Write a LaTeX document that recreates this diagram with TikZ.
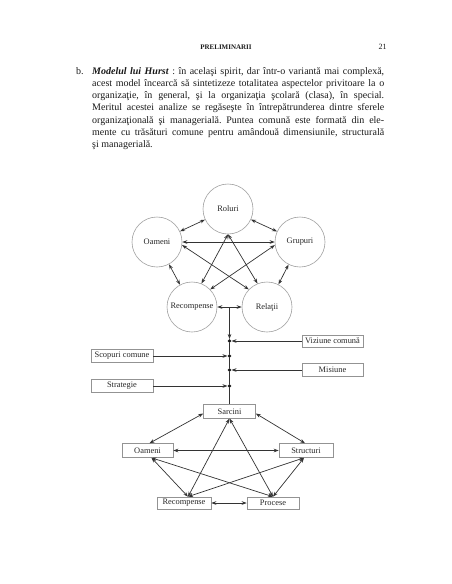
\documentclass[tikz,border=0pt]{standalone}
\usepackage{fontspec}
\setmainfont{Liberation Serif}
\usetikzlibrary{arrows.meta}
\frenchspacing
\begin{document}
\begin{tikzpicture}[x=1pt,y=-1pt,
  circ/.style={circle,draw=gray!75,line width=0.6pt,minimum size=50pt,inner sep=0pt,text=black!85,font=\fontsize{8.4}{9}\selectfont},
  box/.style={rectangle,draw=gray!85,line width=0.6pt,inner sep=0pt,minimum height=13pt,text=black!85,font=\fontsize{8.4}{9}\selectfont},
  link/.style={draw=black!80,line width=0.7pt},
  bi/.style={link,{Stealth[length=5pt,width=3.6pt]}-{Stealth[length=5pt,width=3.6pt]}},
  uni/.style={link,-{Stealth[length=5pt,width=3.6pt]}},
  junc/.style={circle,fill=black!90,inner sep=0pt,minimum size=3.6pt}
]
\useasboundingbox (0,0) rectangle (452,584);

% ---- text ----
\node[anchor=base,inner sep=0pt,text=black!90,font=\fontsize{7}{8}\selectfont\bfseries] (hdr) at (226,49) {PRELIMINARII};
\node[anchor=base,inner sep=0pt,text=black!90,font=\fontsize{8}{9}\selectfont] (pg) at (382.5,49) {21};
\node[anchor=base west,inner sep=0pt,text=black!90,font=\fontsize{10}{12.3}\selectfont] (bl) at (76,74) {b.};
\node[anchor=base west,inner sep=0pt,text=black!90] (par) at (92,74) {\parbox[t]{292pt}{\fontsize{10}{12.3}\selectfont
\textbf{\textit{Modelul lui Hurst}} : în acelaşi spirit, dar într-o variantă mai complexă,\linebreak
acest model încearcă să sintetizeze totalitatea aspectelor privitoare la o\linebreak
organizaţie, în general, şi la organizaţia şcolară (clasa), în special.\linebreak
Meritul acestei analize se regăseşte în întrepătrunderea dintre sferele\linebreak
organizaţională şi managerială. Puntea comună este formată din ele-\linebreak
mente cu trăsături comune pentru amândouă dimensiunile, structurală\linebreak
şi managerială.}};

% ---- upper pentagon ----
\node[circ] (rol) at (228,209) {Roluri};
\node[circ] (oamc) at (157,242) {Oameni};
\node[circ] (grp) at (300,242) {Grupuri};
\node[circ] (recc) at (192,307) {Recompense};
\node[circ] (rel) at (267,307) {Relaţii};

\draw[bi] (rol) -- (oamc);
\draw[bi] (rol) -- (grp);
\draw[bi] (oamc) -- (grp);
\draw[bi] (oamc) -- (recc);
\draw[bi] (grp) -- (rel);
\draw[bi] (recc) -- (rel);
\draw[bi] (rol.south) -- (recc.68);
\draw[bi] (rol.south) -- (rel.112);
\draw[bi] (oamc.-7) -- (rel.136);
\draw[bi] (grp.187) -- (recc.44);

% ---- bridge ----
\coordinate (top) at (229.5,307);
\node[junc] (d1) at (229.5,341) {};
\node[junc] (d2) at (229.5,356) {};
\node[junc] (d3) at (229.5,370) {};
\node[junc] (d4) at (229.5,386) {};

\node[box,minimum width=61pt,minimum height=12pt] (viz) at (332.5,341) {Viziune comună};
\node[box,minimum width=62pt] (scop) at (122,356) {Scopuri comune};
\node[box,minimum width=61pt] (mis) at (332.5,370) {Misiune};
\node[box,minimum width=62pt] (strat) at (122,386) {Strategie};

\node[box,minimum width=52pt,minimum height=13.5pt] (sarc) at (229.5,411.5) {Sarcini};

\draw[uni] (top) -- (d1);
\draw[link] (d1) -- (d2) -- (d3) -- (d4) -- (sarc);
\draw[uni] (viz) -- (d1);
\draw[uni] (scop) -- (d2);
\draw[uni] (mis) -- (d3);
\draw[uni] (strat) -- (d4);

% ---- lower pentagon ----
\node[box,minimum width=51pt,minimum height=14pt] (oamb) at (147.5,450.5) {Oameni};
\node[box,minimum width=54pt,minimum height=14pt] (str) at (306,450.5) {Structuri};
\node[box,minimum width=54pt,minimum height=12pt] (recb) at (184,503) {Recompense};
\node[box,minimum width=52pt,minimum height=12pt] (proc) at (273,503) {Procese};

\draw[bi] ([yshift=-2pt]sarc.west) -- ([xshift=2pt]oamb.north);
\draw[bi] ([yshift=-2pt]sarc.east) -- ([xshift=-1pt]str.north);
\draw[bi] (oamb.east) -- (str.west);
\draw[bi] ([xshift=4pt]oamb.south) -- ([xshift=4pt]recb.north);
\draw[bi] ([xshift=4pt]oamb.south) -- (proc.north);
\draw[bi] ([xshift=-2pt]str.south) -- ([xshift=4pt]recb.north);
\draw[bi] ([xshift=-2pt]str.south) -- (proc.north);
\draw[bi] (sarc.south) -- ([xshift=4pt]recb.north);
\draw[bi] (sarc.south) -- (proc.north);
\draw[bi] (recb.east) -- (proc.west);
\end{tikzpicture}
\end{document}
